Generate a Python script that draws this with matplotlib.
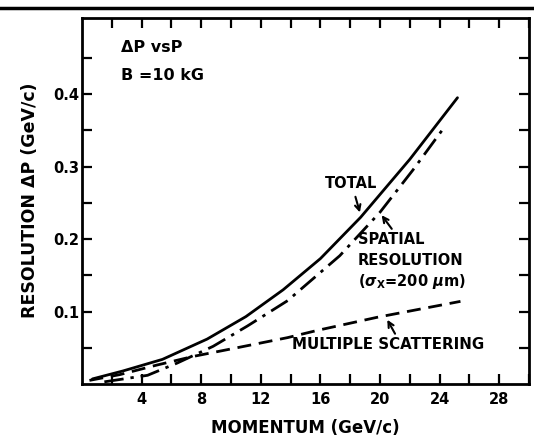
import matplotlib
matplotlib.use("Agg")
import matplotlib.pyplot as plt
from matplotlib.lines import Line2D

plt.rcParams['font.family'] = ['DejaVu Sans']
plt.rcParams['font.weight'] = 'bold'

# Data
total_p = [0.7, 2.75, 5.4, 8.4, 11.0, 13.5, 16.0, 18.7, 22.0, 25.2]
total_v = [0.007, 0.018, 0.034, 0.062, 0.093, 0.130, 0.173, 0.230, 0.310, 0.395]

spatial_p = [1.5, 4.4, 6.4, 8.8, 11.1, 13.8, 17.3, 20.0, 22.2, 24.2]
spatial_v = [0.003, 0.012, 0.029, 0.052, 0.080, 0.115, 0.177, 0.237, 0.295, 0.351]

ms_p = [0.5, 2.55, 5.0, 7.45, 10.4, 13.8, 15.8, 19.8, 25.4]
ms_v = [0.005, 0.013, 0.026, 0.038, 0.050, 0.064, 0.074, 0.092, 0.114]

xticks = [4, 8, 12, 16, 20, 24, 28]
xtick_labels = ['4', '8', '12', '16', '20', '24', '28']
yticks = [0.1, 0.2, 0.3, 0.4]
ytick_labels = ['0.1', '0.2', '0.3', '0.4']

fig = plt.figure(figsize=(5.34, 4.37), dpi=100)
W, H = 534, 437
left, right, top, bottom = 82, 529, 18, 384
ax = fig.add_axes([left / W, 1 - bottom / H, (right - left) / W, (bottom - top) / H])

lw = 2.0
ax.plot(total_p, total_v, color='black', lw=lw, solid_capstyle='round', solid_joinstyle='round')
ax.plot(spatial_p, spatial_v, color='black', lw=lw, dashes=(7, 2.5, 1.2, 2.5))
ax.plot(ms_p, ms_v, color='black', lw=lw, dashes=(5, 2.8))

ax.set_xlim(0, 30)
ax.set_ylim(0, 0.505)

ax.set_xticks(xticks)
ax.set_xticklabels(xtick_labels)
ax.set_xticks([2, 6, 10, 14, 18, 22, 26, 30], minor=True)
ax.set_yticks(yticks)
ax.set_yticklabels(ytick_labels)
ax.set_yticks([0.05, 0.15, 0.25, 0.35, 0.45], minor=True)

ax.tick_params(which='both', direction='in', top=True, right=True, length=7, width=1.6,
               labelsize=10.5)
ax.tick_params(axis='x', pad=6)
ax.tick_params(axis='y', pad=2)
for lab in ax.get_xticklabels() + ax.get_yticklabels():
    lab.set_fontweight('bold')
for s in ax.spines.values():
    s.set_linewidth(2)

fs = 10.5
ax.text(2.6, 0.464, 'ΔP vsP', fontsize=11.5, fontweight='bold', ha='left', va='center')
ax.text(2.6, 0.426, 'B =10 kG', fontsize=11.5, fontweight='bold', ha='left', va='center')

ax.text(16.3, 0.276, 'TOTAL', fontsize=fs, fontweight='bold', ha='left', va='center')
ax.annotate('', xy=(18.7, 0.233), xytext=(18.3, 0.262),
            arrowprops=dict(arrowstyle='->', lw=1.5, color='black'))

ax.text(18.5, 0.200, 'SPATIAL', fontsize=fs, fontweight='bold', ha='left', va='center')
ax.text(18.5, 0.170, 'RESOLUTION', fontsize=fs, fontweight='bold', ha='left', va='center')
ax.text(18.5, 0.142, r'($\sigma_\mathbf{X}$=200 $\mu$m)', fontsize=fs, fontweight='bold',
        ha='left', va='center')
ax.annotate('', xy=(20.0, 0.236), xytext=(20.9, 0.211),
            arrowprops=dict(arrowstyle='->', lw=1.5, color='black'))

ax.text(14.1, 0.054, 'MULTIPLE SCATTERING', fontsize=10.8, fontweight='bold', ha='left', va='center')
ax.annotate('', xy=(20.4, 0.092), xytext=(21.1, 0.066),
            arrowprops=dict(arrowstyle='->', lw=1.5, color='black'))

fig.text(30 / W, 1 - 200 / H, 'RESOLUTION ΔP (GeV/c)', rotation=90, fontsize=12.5,
         fontweight='bold', ha='center', va='center')
fig.text(305 / W, 1 - 428 / H, 'MOMENTUM (GeV/c)', fontsize=12, fontweight='bold',
         ha='center', va='center')

fig.add_artist(Line2D([0, 1], [1 - 8 / H, 1 - 8 / H], lw=2.5, color='black',
                      transform=fig.transFigure))

fig.savefig('out.png', dpi=100)
